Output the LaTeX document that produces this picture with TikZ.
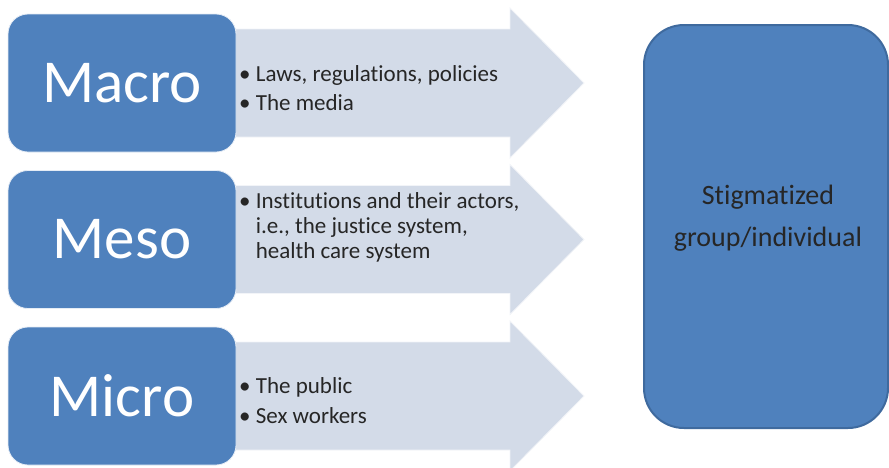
\documentclass[tikz,border=0pt]{standalone}
\usepackage{fontspec}
\setmainfont{Carlito}[Ligatures = NoCommon]
\usetikzlibrary{positioning}
\definecolor{boxblue}{HTML}{4F81BD}
\definecolor{edgeblue}{HTML}{3F6A9E}
\definecolor{arrowfill}{HTML}{D3DBE8}
\definecolor{darktext}{HTML}{262626}
\tikzset{level/.style = {fill = boxblue, draw = white!85!boxblue, line width = 0.8pt,
                         rounded corners = 20pt, minimum width = 228pt, minimum height = 138pt,
                         inner sep = 0, text = white, font = \fontsize{61}{61}\selectfont}}
\tikzset{flow/.style = {fill = arrowfill, draw = white!70!arrowfill, line width = 0.8pt}}
\tikzset{items/.style = {anchor = west, align = left, inner sep = 0, text = darktext}}
\tikzset{target/.style = {fill = boxblue, draw = edgeblue, line width = 2pt,
                          rounded corners = 40pt, minimum width = 244pt, minimum height = 403pt,
                          inner sep = 0}}

\begin{document}
\begin{tikzpicture}[x = 1pt, y = -1pt]
    \useasboundingbox (0, 0) rectangle (889, 467);

    % arrows behind the level boxes
    \foreach \c in {83, 239.5, 396}
      \draw [flow] (230, \c - 54) -- (510, \c - 54) -- (510, \c - 75) -- (584, \c)
                   -- (510, \c + 75) -- (510, \c + 54) -- (230, \c + 54) -- cycle;

    \node [level] (macro) at (122, 83) {Macro};
    \node [level] (meso) at (122, 239.5) {Meso};
    \node [level] (micro) at (122, 396) {Micro};

    \node [items, font = \fontsize{23}{29}\selectfont] (macrolist) at (239, 88)
      {\textbullet\ Laws, regulations, policies\\ \textbullet\ The media};
    \node [items, font = \fontsize{23}{25}\selectfont] (mesolist) at (239, 227)
      {\textbullet\ Institutions and their actors,\\
       \hphantom{\textbullet\ }i.e., the justice system,\\
       \hphantom{\textbullet\ }health care system};
    \node [items, font = \fontsize{23}{30}\selectfont] (microlist) at (239, 401)
      {\textbullet\ The public\\ \textbullet\ Sex workers};

    \node [target] (group) at (766, 226.5) {};
    \node [text = darktext, align = center, font = \fontsize{28}{42}\selectfont]
      (grouptext) at (768, 218) {Stigmatized\\ group/individual};
  \end{tikzpicture}
\end{document}
